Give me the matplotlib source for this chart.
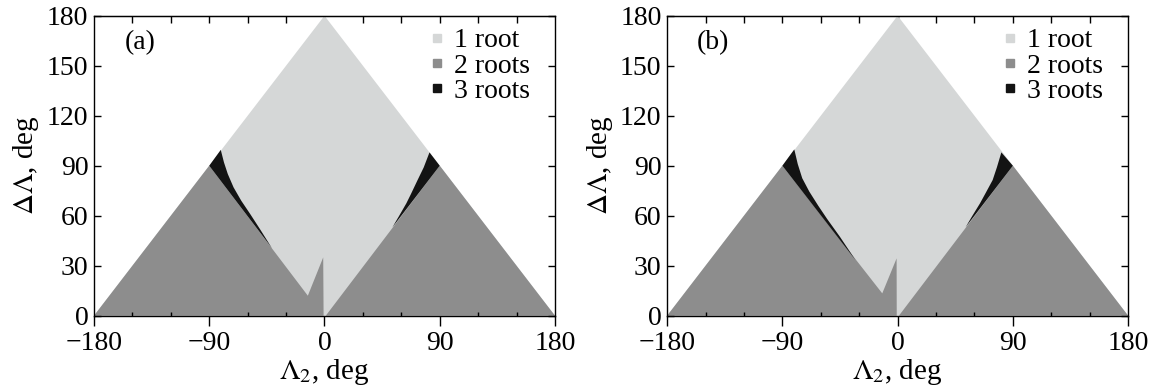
import numpy as np
import matplotlib.pyplot as plt
from matplotlib.patches import Polygon
from matplotlib.lines import Line2D

plt.rcParams['font.family'] = ['Liberation Serif', 'DejaVu Serif']
plt.rcParams['mathtext.fontset'] = 'stix'
plt.rcParams['axes.unicode_minus'] = True

# --- region boundaries (Lambda_2, Delta Lambda) in degrees ---
# whole admissible domain: |Lambda_2| + dLambda <= 180
domain = [(-180, 0), (0, 180), (180, 0)]

# panel (a)
a_two_left = [(-180, 0), (-90, 90), (-13, 12), (-1, 35), (-0.7, 0)]
a_two_right = [(1, 0), (90, 90), (180, 0)]
a_three_left = [(-90, 90), (-81, 99.5), (-78.5, 92), (-75.5, 85), (-71, 77),
                (-65, 69), (-58, 61), (-50, 51.5), (-41, 40.5)]
a_three_right = [(90, 90), (82, 98), (77.5, 89), (72.7, 81.4), (67.5, 73),
                 (63.9, 67.4), (57.9, 59.4), (53, 53)]

# panel (b)
b_two_left = [(-180, 0), (-90, 90), (-12, 13.4), (-0.8, 34.4), (-0.7, 0)]
b_two_right = [(1, 0), (90, 90), (180, 0)]
b_three_left = [(-90, 90), (-80.7, 99.8), (-78, 91), (-74.5, 82.5),
                (-69, 74.5), (-62, 66), (-55, 58), (-45.1, 47.4), (-33, 33.5)]
b_three_right = [(90, 90), (81, 98), (77.5, 89), (74.2, 81.4), (69, 74),
                 (64.3, 67.4), (58, 59.5), (53, 53)]

panels = [
    ('(a)', a_two_left, a_two_right, a_three_left, a_three_right),
    ('(b)', b_two_left, b_two_right, b_three_left, b_three_right),
]

labels = ['1 root', '2 roots', '3 roots']
c_one = '#d5d7d7'
c_two = '#8d8d8d'
c_three = '#131313'

fig = plt.figure(figsize=(11.56, 3.89), dpi=100)
lefts = [0.0813, 0.5771]

for left, (tag, two_l, two_r, three_l, three_r) in zip(lefts, panels):
    ax = fig.add_axes([left, 0.1884, 0.3988, 0.7712])

    ax.add_patch(Polygon(domain, closed=True, fc=c_one, ec='none'))
    for poly in (two_l, two_r):
        ax.add_patch(Polygon(poly, closed=True, fc=c_two, ec='none'))
    for poly in (three_l, three_r):
        ax.add_patch(Polygon(poly, closed=True, fc=c_three, ec='none'))

    ax.set_xlim(-180, 180)
    ax.set_ylim(0, 180)
    ax.set_xticks([-180, -90, 0, 90, 180])
    ax.set_xticks([-150, -120, -60, -30, 30, 60, 120, 150], minor=True)
    ax.set_yticks([0, 30, 60, 90, 120, 150, 180])
    ax.tick_params(axis='x', which='major', direction='out', length=7,
                   width=1, labelsize=20, pad=4, top=False)
    ax.tick_params(axis='x', which='minor', direction='in', length=3,
                   width=1, top=False)
    ax.tick_params(axis='y', which='major', direction='in', length=5,
                   width=1, labelsize=20, right=True, pad=4)

    top = ax.secondary_xaxis('top')
    top.set_xticks(np.arange(-150, 180, 30))
    top.tick_params(direction='in', length=5, width=1, labeltop=False)

    for sp in ax.spines.values():
        sp.set_linewidth(1)

    ax.set_xlabel(r'$\Lambda_2$, deg', fontsize=21, labelpad=1)
    ax.set_ylabel(r'$\Delta\Lambda$, deg', fontsize=21, labelpad=4)

    ax.text(0.1, 0.91, tag, transform=ax.transAxes, fontsize=20,
            ha='center', va='center')

    handles = [Line2D([], [], ls='none', marker='s', markersize=6,
                      mfc=c, mec=c) for c in (c_one, c_two, c_three)]
    ax.legend(handles, labels, loc='upper left', bbox_to_anchor=(0.69, 1.015),
              frameon=False, fontsize=20, handlelength=0.6,
              handletextpad=0.3, labelspacing=0.0, borderpad=0.1)

fig.savefig('out.png', dpi=100)
